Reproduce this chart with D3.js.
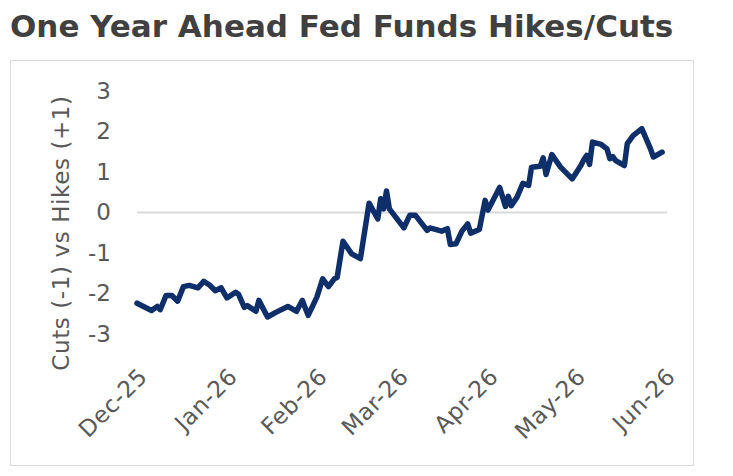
<!DOCTYPE html>
<html>
<head>
<meta charset="utf-8">
<script src="https://cdn.jsdelivr.net/npm/d3@7"></script>
<style>
  body { margin: 0; background: #fff; }
  svg text { font-family: "DejaVu Sans", sans-serif; }
</style>
</head>
<body>
<svg id="chart" width="733" height="476"></svg>
<script>
// values
var dates = ["2025-12-01","2025-12-06","2025-12-08","2025-12-09","2025-12-11","2025-12-13","2025-12-15","2025-12-17",
  "2025-12-19","2025-12-22","2025-12-24","2025-12-26","2025-12-28","2025-12-30","2026-01-01","2026-01-04","2026-01-05",
  "2026-01-07","2026-01-08","2026-01-11","2026-01-12","2026-01-15","2026-01-18","2026-01-22","2026-01-25","2026-01-27",
  "2026-01-29","2026-02-01","2026-02-03","2026-02-05","2026-02-07","2026-02-08","2026-02-10","2026-02-13","2026-02-16",
  "2026-02-19","2026-02-22","2026-02-23","2026-02-24","2026-02-25","2026-02-26","2026-03-03","2026-03-05","2026-03-07",
  "2026-03-11","2026-03-12","2026-03-16","2026-03-18","2026-03-19","2026-03-21","2026-03-23","2026-03-25","2026-03-26",
  "2026-03-29","2026-03-31","2026-04-01","2026-04-05","2026-04-07","2026-04-08","2026-04-09","2026-04-11","2026-04-13",
  "2026-04-15","2026-04-16","2026-04-19","2026-04-20","2026-04-21","2026-04-23","2026-04-26","2026-04-30","2026-05-03",
  "2026-05-04","2026-05-05","2026-05-06","2026-05-07","2026-05-10","2026-05-12","2026-05-13","2026-05-14","2026-05-15",
  "2026-05-18","2026-05-19","2026-05-21","2026-05-24","2026-05-27","2026-05-28","2026-05-31"];
var values = [-2.24,-2.42,-2.32,-2.40,-2.05,-2.05,-2.19,-1.83,
  -1.80,-1.86,-1.70,-1.79,-1.93,-1.86,-2.11,-1.97,-2.02,
  -2.34,-2.30,-2.44,-2.17,-2.58,-2.46,-2.32,-2.44,-2.17,
  -2.54,-2.09,-1.64,-1.83,-1.64,-1.60,-0.71,-1.02,-1.14,
  0.23,-0.16,0.34,0.09,0.53,0.09,-0.38,-0.07,-0.07,
  -0.44,-0.38,-0.46,-0.40,-0.79,-0.77,-0.46,-0.28,-0.51,
  -0.42,0.30,0.06,0.62,0.15,0.40,0.17,0.38,0.72,
  0.67,1.12,1.14,1.35,0.94,1.43,1.12,0.83,1.16,
  1.30,1.41,1.19,1.74,1.68,1.57,1.33,1.38,1.28,
  1.16,1.70,1.90,2.07,1.57,1.37,1.49];
var yTicks = [-3, -2, -1, 0, 1, 2, 3];
var monthTicks = ["2025-12-01","2026-01-01","2026-02-01","2026-03-01","2026-04-01","2026-05-01","2026-06-01"];

var parse = d3.timeParse("%Y-%m-%d");
var data = dates.map(function(d, i) { return {date: parse(d), value: values[i]}; });

var svg = d3.select("#chart");

// frame
svg.append("rect")
  .attr("x", 10.5).attr("y", 60.5)
  .attr("width", 683).attr("height", 405)
  .attr("fill", "none")
  .attr("stroke", "#d9d9d9")
  .attr("stroke-width", 1);

// title
svg.append("text")
  .attr("x", 10).attr("y", 37)
  .attr("font-size", "31px")
  .attr("font-weight", "bold")
  .attr("fill", "#404040")
  .text("One Year Ahead Fed Funds Hikes/Cuts");

var x = d3.scaleTime()
  .domain([parse("2025-12-01"), parse("2026-06-01")])
  .range([137, 665]);
var y = d3.scaleLinear().domain([-3, 3]).range([334, 91]);

// y axis labels (plain hyphen for negatives, like the original)
var yAxis = d3.axisLeft(y).tickValues(yTicks).tickSize(0).tickPadding(0)
  .tickFormat(function(d) { return String(d); });
var gy = svg.append("g").attr("transform", "translate(111,0)").call(yAxis);
gy.select(".domain").remove();
gy.selectAll("text")
  .attr("font-size", "23px")
  .attr("fill", "#595959")
  .style("font-family", "DejaVu Sans, sans-serif");

// zero line
svg.append("line")
  .attr("x1", 137).attr("x2", 667)
  .attr("y1", y(0)).attr("y2", y(0))
  .attr("stroke", "#d9d9d9")
  .attr("stroke-width", 2);

// x axis labels
var xAxis = d3.axisBottom(x).tickValues(monthTicks.map(parse)).tickSize(0)
  .tickFormat(d3.timeFormat("%b-%y"));
var gx = svg.append("g").attr("transform", "translate(0,378)").call(xAxis);
gx.select(".domain").remove();
gx.selectAll("text")
  .attr("font-size", "23px")
  .attr("letter-spacing", "0.6px")
  .attr("fill", "#595959")
  .style("font-family", "DejaVu Sans, sans-serif")
  .attr("text-anchor", "end")
  .attr("dx", "8")
  .attr("dy", "0.35em")
  .attr("y", 0)
  .attr("transform", "rotate(-45)");

// y axis title
svg.append("text")
  .attr("transform", "translate(69,233) rotate(-90)")
  .attr("text-anchor", "middle")
  .attr("font-size", "23px")
  .attr("letter-spacing", "0.6px")
  .attr("fill", "#595959")
  .text("Cuts (-1) vs Hikes (+1)");

// the line
var line = d3.line()
  .x(function(d) { return x(d.date); })
  .y(function(d) { return y(d.value); });

svg.append("path")
  .datum(data)
  .attr("d", line)
  .attr("fill", "none")
  .attr("stroke", "#0f2f6b")
  .attr("stroke-width", 5.5)
  .attr("stroke-linejoin", "round")
  .attr("stroke-linecap", "round");
</script>
</body>
</html>
